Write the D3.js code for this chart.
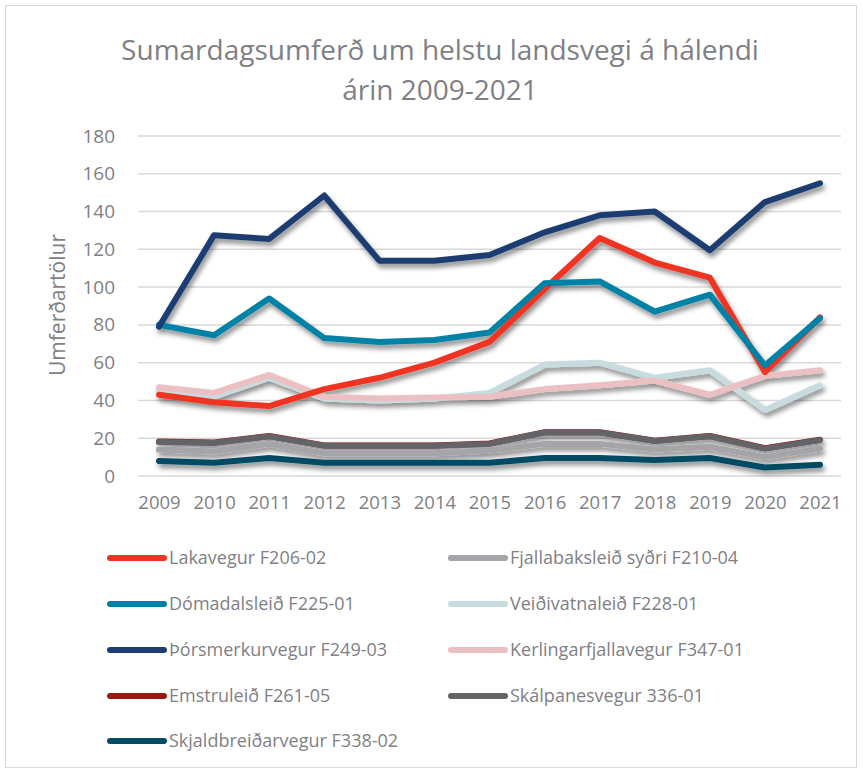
<!DOCTYPE html>
<html>
<head>
<meta charset="utf-8">
<script src="https://cdn.jsdelivr.net/npm/d3@7"></script>
<style>
  body { margin: 0; background: #fff; }
  text { font-family: "Open Sans", "Noto Sans", sans-serif; fill: #7f7f85; }
</style>
</head>
<body>
<svg id="chart" width="863" height="771"></svg>
<script>
// years on the category axis
const years = ["2009","2010","2011","2012","2013","2014","2015","2016","2017","2018","2019","2020","2021"];
const yTicks = [0, 20, 40, 60, 80, 100, 120, 140, 160, 180];

// series values
const lakavegur      = [43, 39, 37, 46, 52, 60, 71, 99, 126, 113, 105, 55, 84];
const fjallabak      = [14, 13, 17, 12, 12, 12, 13.5, 17, 17, 14, 15.5, 10, 14.5];
const domadals       = [80, 74.5, 94, 73, 71, 72, 76, 102, 103, 87, 96, 58.5, 83.5];
const veidivatna     = [45, 42, 52, 41, 40, 41, 44, 59, 60, 52, 56, 35, 48];
const thorsmerkur    = [79, 127.5, 125.5, 148.5, 114, 114, 117, 129, 138, 140, 119.5, 145, 155];
const kerlingarfjall = [47, 44, 53.5, 42, 41, 41.5, 42, 46, 48, 50.5, 43, 53, 56];
const emstru         = [18.2, 17.7, 21.2, 16.2, 16.2, 16.2, 17.2, 23.2, 23.2, 18.7, 21.2, 14.7, 19.2];
const skalpanes      = [18, 17.5, 21, 16, 16, 16, 17, 23, 23, 18.5, 21, 14.5, 19];
const skjaldbreidar  = [8, 7, 9.5, 7, 7, 7, 7, 9.5, 9.5, 8.5, 9.5, 4.5, 6];

const series = [
  {name: "Lakavegur F206-02", color: "#ef3424", values: lakavegur, legend: [0, 0]},
  {name: "Fjallabaksleið syðri F210-04", color: "#a5a5a9", values: fjallabak, legend: [1, 0]},
  {name: "Dómadalsleið F225-01", color: "#0082a6", values: domadals, legend: [0, 1]},
  {name: "Veiðivatnaleið F228-01", color: "#c8dcdf", values: veidivatna, legend: [1, 1]},
  {name: "Þórsmerkurvegur F249-03", color: "#1e3e72", values: thorsmerkur, legend: [0, 2]},
  {name: "Kerlingarfjallavegur F347-01", color: "#ecbfc2", values: kerlingarfjall, legend: [1, 2]},
  {name: "Emstruleið F261-05", color: "#9a1a11", values: emstru, legend: [0, 3]},
  {name: "Skálpanesvegur 336-01", color: "#636367", values: skalpanes, legend: [1, 3]},
  {name: "Skjaldbreiðarvegur F338-02", color: "#004b63", values: skjaldbreidar, legend: [0, 4]}
];
// draw order (last on top)
const drawOrder = [6, 1, 3, 5, 0, 7, 8, 2, 4];

const svg = d3.select("#chart");

// outer frame
svg.append("rect")
  .attr("x", 5.5).attr("y", 5.5)
  .attr("width", 851).attr("height", 762)
  .attr("fill", "#fff")
  .attr("stroke", "#d9d9d9");

// drop shadow like the office chart
const defs = svg.append("defs");
const shadow = defs.append("filter").attr("id", "shadow")
  .attr("x", "-10%").attr("y", "-10%").attr("width", "120%").attr("height", "130%");
shadow.append("feDropShadow")
  .attr("dx", 2).attr("dy", 4)
  .attr("stdDeviation", 2.5)
  .attr("flood-color", "#000")
  .attr("flood-opacity", 0.45);

// title
const title = svg.append("text")
  .attr("text-anchor", "middle")
  .attr("font-size", "28px");
title.append("tspan").attr("x", 440).attr("y", 60).text("Sumardagsumferð um helstu landsvegi á hálendi");
title.append("tspan").attr("x", 440).attr("y", 100).text("árin 2009-2021");

const x = d3.scalePoint().domain(years).range([159, 820]);
const y = d3.scaleLinear().domain([0, 180]).range([476, 136]);

// gridlines
svg.append("g")
  .selectAll("line")
  .data(yTicks)
  .enter()
  .append("line")
  .attr("x1", 138).attr("x2", 841)
  .attr("y1", d => y(d)).attr("y2", d => y(d))
  .attr("stroke", "#d9d9d9")
  .attr("stroke-width", 1.5);

// y axis
const yAxis = svg.append("g")
  .attr("transform", "translate(138,0)")
  .call(d3.axisLeft(y).tickValues(yTicks).tickSize(0).tickPadding(23));
yAxis.select(".domain").remove();
yAxis.selectAll("text").attr("font-size", "19px").attr("fill", "#7f7f85");

// x axis
const xAxis = svg.append("g")
  .attr("transform", "translate(0,476)")
  .call(d3.axisBottom(x).tickSize(0).tickPadding(20));
xAxis.select(".domain").remove();
xAxis.selectAll("text").attr("font-size", "18.5px").attr("fill", "#7f7f85");

// axis title
svg.append("text")
  .attr("transform", "translate(65,305) rotate(-90)")
  .attr("text-anchor", "middle")
  .attr("font-size", "21px")
  .text("Umferðartölur");

// lines
const line = d3.line()
  .x((d, i) => x(years[i]))
  .y(d => y(d));

svg.append("g")
  .attr("filter", "url(#shadow)")
  .selectAll("path")
  .data(drawOrder.map(i => series[i]))
  .enter()
  .append("path")
  .attr("d", d => line(d.values))
  .attr("fill", "none")
  .attr("stroke", d => d.color)
  .attr("stroke-width", 6)
  .attr("stroke-linejoin", "round")
  .attr("stroke-linecap", "round");

// legend
const colX = [108, 449];
const rowY = [558, 604, 650, 696, 741];
const legend = svg.append("g")
  .selectAll("g")
  .data(series)
  .enter()
  .append("g")
  .attr("transform", d => "translate(" + colX[d.legend[0]] + "," + rowY[d.legend[1]] + ")");

legend.append("line")
  .attr("x1", 2).attr("x2", 56)
  .attr("stroke", d => d.color)
  .attr("stroke-width", 6)
  .attr("stroke-linecap", "round");

legend.append("text")
  .attr("x", 61)
  .attr("dy", "0.35em")
  .attr("font-size", "18px")
  .text(d => d.name);
</script>
</body>
</html>
